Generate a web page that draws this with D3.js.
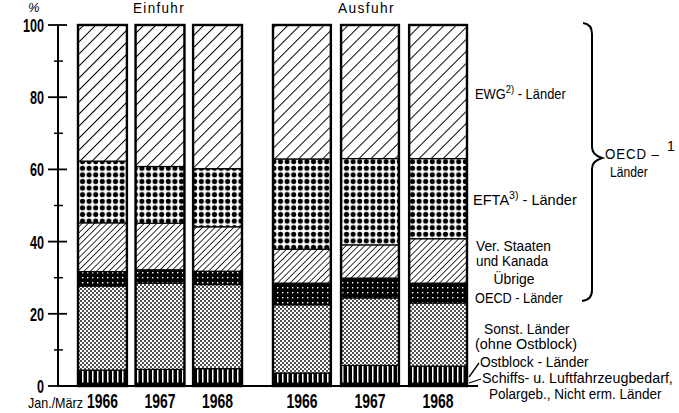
<!DOCTYPE html>
<html><head><meta charset="utf-8">
<script src="https://cdn.jsdelivr.net/npm/d3@7"></script>
<style>
body{margin:0;background:#fff}
svg{display:block}
text{font-family:"Liberation Sans Narrow","Liberation Sans","DejaVu Sans Condensed",sans-serif;fill:#000}
</style>
</head><body><svg id="c" width="679" height="413"></svg>
<script>
// ---- data (percent shares), bars: Einfuhr 1966,1967,1968, Ausfuhr 1966,1967,1968
const groups = ["Einfuhr", "Ausfuhr"];
const years = ["1966", "1967", "1968"];
const schiffs     = [0.8, 0.8, 0.8, 0.8, 0.8, 0.8];
const ostblock    = [3.6, 3.8, 4.0, 2.8, 4.9, 4.7];
const sonstige    = [23.3, 23.9, 23.3, 18.9, 18.7, 17.5];
const uebrigeOECD = [4.0, 3.7, 3.7, 6.0, 5.5, 5.5];
const usaKanada   = [13.5, 12.9, 12.3, 9.4, 9.2, 12.3];
const efta        = [17.1, 15.7, 16.1, 25.0, 23.9, 22.2];
const ewg         = [37.7, 39.2, 39.8, 37.1, 37.0, 37.0];
const yTicks = [0, 20, 40, 60, 80, 100];
const yMinor = [10, 30, 50, 70, 90];

const keys = ["schiffs", "ostblock", "sonstige", "uebrigeOECD", "usaKanada", "efta", "ewg"];
const series = {schiffs, ostblock, sonstige, uebrigeOECD, usaKanada, efta, ewg};
const rows = [];
groups.forEach((g, gi) => years.forEach((yr, yi) => {
  const i = gi * 3 + yi;
  const r = {group: g, year: yr};
  keys.forEach(k => r[k] = series[k][i]);
  rows.push(r);
}));

const svg = d3.select("#c");
const defs = svg.append("defs");

function hatch(id, w, sw) {
  const p = defs.append("pattern").attr("id", id).attr("patternUnits", "userSpaceOnUse")
    .attr("width", w).attr("height", w).attr("patternTransform", "rotate(45)");
  p.append("rect").attr("width", w).attr("height", w).attr("fill", "#fff");
  p.append("line").attr("x1", 0).attr("y1", 0).attr("x2", 0).attr("y2", w)
    .attr("stroke", "#000").attr("stroke-width", sw);
}
hatch("pEwg", 8.5, 2.0);
hatch("pUsa", 4.4, 1.6);
{ const p = defs.append("pattern").attr("id", "pEfta").attr("patternUnits", "userSpaceOnUse")
    .attr("width", 6.6).attr("height", 6.6);
  p.append("rect").attr("width", 6.6).attr("height", 6.6).attr("fill", "#fff");
  p.append("circle").attr("cx", 3.3).attr("cy", 3.3).attr("r", 2.55).attr("fill", "#000"); }
{ const p = defs.append("pattern").attr("id", "pUeb").attr("patternUnits", "userSpaceOnUse")
    .attr("width", 5).attr("height", 5);
  p.append("rect").attr("width", 5).attr("height", 5).attr("fill", "#000");
  p.append("rect").attr("x", 2).attr("y", 2).attr("width", 1.4).attr("height", 1.4).attr("fill", "#fff"); }
{ const p = defs.append("pattern").attr("id", "pSon").attr("patternUnits", "userSpaceOnUse")
    .attr("width", 4).attr("height", 4);
  p.append("rect").attr("width", 4).attr("height", 4).attr("fill", "#fff");
  p.append("circle").attr("cx", 1).attr("cy", 1).attr("r", 0.9).attr("fill", "#000");
  p.append("circle").attr("cx", 3).attr("cy", 3).attr("r", 0.9).attr("fill", "#000"); }
{ const p = defs.append("pattern").attr("id", "pOst").attr("patternUnits", "userSpaceOnUse")
    .attr("width", 5).attr("height", 5);
  p.append("rect").attr("width", 5).attr("height", 5).attr("fill", "#000");
  p.append("rect").attr("x", 2).attr("width", 1.5).attr("height", 5).attr("fill", "#fff"); }
const fills = {schiffs: "#000", ostblock: "url(#pOst)", sonstige: "url(#pSon)",
  uebrigeOECD: "url(#pUeb)", usaKanada: "url(#pUsa)", efta: "url(#pEfta)", ewg: "url(#pEwg)"};

const y = d3.scaleLinear().domain([0, 100]).range([386, 25]);
const xScales = {
  Einfuhr: d3.scaleBand().domain(years).range([78, 242]).paddingInner(0.15),
  Ausfuhr: d3.scaleBand().domain(years).range([273, 467]).paddingInner(0.15)
};

const stacked = d3.stack().keys(keys)(rows);
const g = svg.append("g");
stacked.forEach(layer => {
  g.append("g").selectAll("rect").data(layer).join("rect")
    .attr("x", d => xScales[d.data.group](d.data.year))
    .attr("width", d => xScales[d.data.group].bandwidth())
    .attr("y", d => y(d[1]))
    .attr("height", d => y(d[0]) - y(d[1]))
    .attr("fill", fills[layer.key])
    .attr("stroke", "#000").attr("stroke-width", 1.2);
});
g.append("g").selectAll("rect").data(rows).join("rect")
  .attr("x", d => xScales[d.group](d.year))
  .attr("width", d => xScales[d.group].bandwidth())
  .attr("y", y(100)).attr("height", y(0) - y(100))
  .attr("fill", "none").attr("stroke", "#000").attr("stroke-width", 2.4);

// y axis
const ax = svg.append("g");
ax.append("line").attr("x1", 58).attr("x2", 58).attr("y1", y(100)).attr("y2", y(0))
  .attr("stroke", "#000").attr("stroke-width", 2);
ax.selectAll(".maj").data(yTicks).join("line").attr("class", "maj")
  .attr("x1", 48).attr("x2", 67).attr("y1", d => y(d)).attr("y2", d => y(d))
  .attr("stroke", "#000").attr("stroke-width", 1.8);
ax.selectAll(".min").data(yMinor).join("line").attr("class", "min")
  .attr("x1", 54).attr("x2", 63).attr("y1", d => y(d)).attr("y2", d => y(d))
  .attr("stroke", "#000").attr("stroke-width", 1.5);
ax.selectAll(".lab").data(yTicks).join("text").attr("class", "lab")
  .attr("x", 44).attr("y", d => y(d) + 7).attr("text-anchor", "end")
  .attr("font-size", 19).attr("font-weight", "bold")
  .attr("textLength", d => String(d).length * 7).attr("lengthAdjust", "spacingAndGlyphs")
  .text(d => d);
svg.append("text").attr("x", 28).attr("y", 12).attr("font-size", 13).attr("font-style", "italic").text("%");

svg.append("line").attr("x1", 58).attr("x2", 478).attr("y1", y(0)).attr("y2", y(0))
  .attr("stroke", "#000").attr("stroke-width", 2.2);

groups.forEach(gr => {
  const a = svg.append("g").attr("transform", `translate(0,${y(0)})`)
    .call(d3.axisBottom(xScales[gr]).tickSize(0));
  a.select(".domain").remove();
  a.selectAll("text").attr("font-size", 20).attr("font-weight", "bold")
    .attr("font-family", "'Liberation Sans Narrow','Liberation Sans',sans-serif")
    .attr("y", 22).attr("dy", 0)
    .attr("textLength", 31).attr("lengthAdjust", "spacingAndGlyphs");
});

// fitted text helper: scales horizontally to a target width
function fit(parent, x, yy, width, fs, build, anchor) {
  const gg = parent.append("g");
  const t = gg.append("text").attr("font-size", fs);
  build(t);
  const w = t.node().getBBox().width;
  const s = width / w;
  const dx = anchor === "middle" ? -width / 2 : 0;
  gg.attr("transform", `translate(${x + dx},${yy}) scale(${s},1)`);
  return t;
}
const plain = txt => t => t.text(txt);
const supB = (a, s, b) => t => {
  t.append("tspan").text(a);
  t.append("tspan").attr("dy", -6).attr("font-size", 10.5).text(s);
  t.append("tspan").attr("dy", 6).text(b);
};

fit(svg, 28, 408, 55, 14, plain("Jan./März"));
fit(svg, 133, 13, 52, 15, t => t.attr("letter-spacing", 1.5).text("Einfuhr"));
fit(svg, 338, 13, 57, 15, t => t.attr("letter-spacing", 1.5).text("Ausfuhr"));

const L = svg.append("g");
const FS = 14.5;
fit(L, 475, 99, 91, FS, supB("EWG", "2)", " - Länder"));
fit(L, 473, 205, 104, FS, supB("EFTA", "3)", " - Länder"));
fit(L, 476, 251, 75, FS, plain("Ver. Staaten"));
fit(L, 476, 266, 73, FS, plain("und Kanada"));
fit(L, 514, 284, 41, FS, plain("Übrige"), "middle");
fit(L, 475, 303, 88, FS, plain("OECD - Länder"));
fit(L, 527, 334, 86, FS, plain("Sonst. Länder"), "middle");
fit(L, 475, 349, 102, FS, plain("(ohne Ostblock)"));
fit(L, 480, 367, 109, FS, plain("Ostblock - Länder"));
fit(L, 482, 383, 191, FS, plain("Schiffs- u. Luftfahrzeugbedarf,"));
fit(L, 489, 399, 173, FS, plain("Polargeb., Nicht erm. Länder"));
L.append("path").attr("d", "M479,363 L469,377").attr("stroke", "#000").attr("stroke-width", 1.3).attr("fill", "none");
L.append("path").attr("d", "M481,379 L469,383").attr("stroke", "#000").attr("stroke-width", 1.3).attr("fill", "none");

// brace
svg.append("path")
  .attr("d", "M583,23 Q592,24 592,34 L592,147 Q592,155 602,158 Q592,161 592,169 L592,290 Q592,300 582,301")
  .attr("fill", "none").attr("stroke", "#000").attr("stroke-width", 2);
fit(svg, 605, 159, 55, FS, t => t.attr("letter-spacing", 1).text("OECD –"));
svg.append("text").attr("x", 667).attr("y", 151).attr("font-size", 14).text("1");
fit(svg, 629, 177, 38, FS, plain("Länder"), "middle");
</script>
</body></html>
